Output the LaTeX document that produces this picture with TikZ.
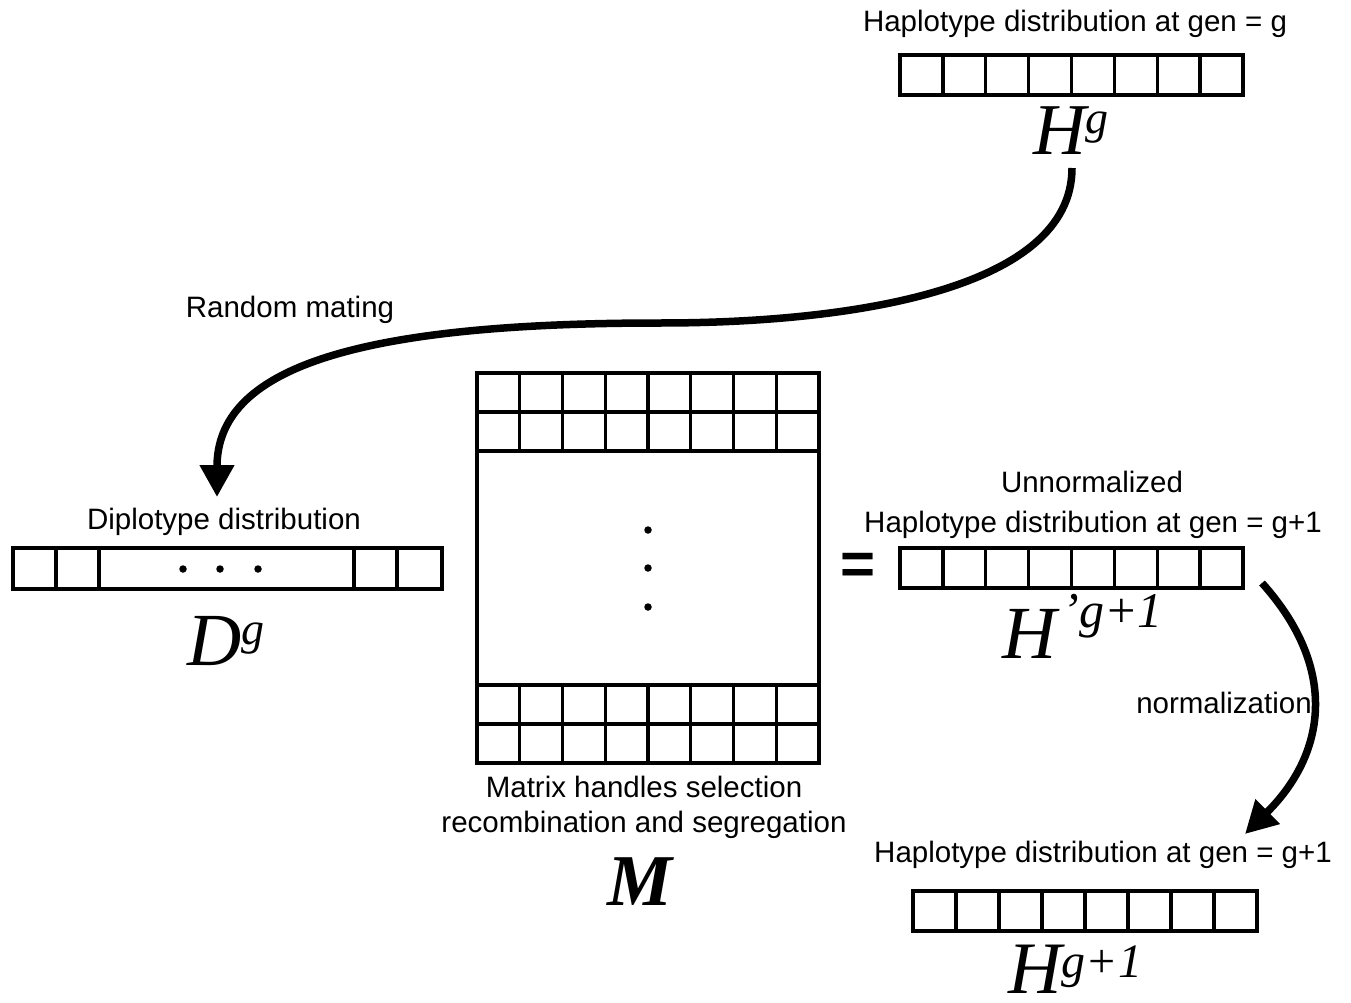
\documentclass[tikz,border=0pt]{standalone}
\usepackage{fontspec}
\setmainfont{Liberation Serif}
\newfontfamily\labfont{Liberation Sans}
\usetikzlibrary{arrows.meta}

\begin{document}
\begin{tikzpicture}[x=1pt,y=-1pt,
  lab/.style={font=\labfont\fontsize{29.5}{36}\selectfont, inner sep=0pt, anchor=base},
  sym/.style={inner sep=0pt, anchor=base west, font=\itshape},
  cell/.style={draw, line width=3.4pt},
  flow/.style={line width=7.5pt, -{Triangle[length=32pt,width=33pt]}},
  dotmark/.style={fill, circle, inner sep=0pt, minimum size=7.5pt}
]
\useasboundingbox (0,0) rectangle (1351,1003);

% haplotype vector, generation g
\node[lab] (capHg) at (1075,32) {Haplotype distribution at gen = g};
\draw[cell] (900,55) rectangle (1243,95);
\foreach \i in {1,...,7} \draw[cell] (900+42.875*\i,55) -- (900+42.875*\i,95);
\node[sym] (Hg) at (1033,155) {\fontsize{73}{73}\selectfont H\raisebox{21pt}{\fontsize{46}{46}\selectfont g}};

% random mating
\node[lab] (capRM) at (290,317) {Random mating};
\coordinate (rmStart) at (1072,168);
\coordinate (rmMid) at (660,323);
\coordinate (rmEnd) at (217,497);
\draw[flow] (rmStart) .. controls (1072,290) and (850,323) .. (rmMid)
  .. controls (350,323) and (217,370) .. (rmEnd);

% diplotype vector
\node[lab] (capDg) at (224,529) {Diplotype distribution};
\draw[cell] (13,548) rectangle (442,589);
\foreach \x in {56,99,354,397} \draw[cell] (\x,548) -- (\x,589);
\foreach \x/\n in {183/a,220/b,258/c} \node[dotmark] (dd\n) at (\x,569) {};
\node[sym] (Dg) at (187,665) {\fontsize{75}{75}\selectfont D\raisebox{21pt}{\fontsize{46}{46}\selectfont g}};

% transition matrix
\draw[cell] (477,373) rectangle (819,763);
\foreach \y in {412,451,685,724} \draw[cell] (477,\y) -- (819,\y);
\foreach \i in {1,...,7} {
  \draw[cell] (477+42.75*\i,373) -- (477+42.75*\i,451);
  \draw[cell] (477+42.75*\i,685) -- (477+42.75*\i,763);
}
\foreach \y/\n in {530/a,568/b,607/c} \node[dotmark] (md\n) at (648,\y) {};
\node[lab] (capM1) at (644,797) {Matrix handles selection};
\node[lab] (capM2) at (644,832) {recombination and segregation};
\node[inner sep=0pt, anchor=base, font=\bfseries\itshape\fontsize{73}{73}\selectfont] (M) at (640,905) {M};

% equals sign
\node[inner sep=0pt, font=\labfont\bfseries\fontsize{60}{60}\selectfont] (eq) at (858,569) {=};

% unnormalized haplotype vector, generation g+1
\node[lab] (capU1) at (1092,492) {Unnormalized};
\node[lab] (capU2) at (1093,532) {Haplotype distribution at gen = g+1};
\draw[cell] (900,548) rectangle (1243,588);
\foreach \i in {1,...,7} \draw[cell] (900+42.875*\i,548) -- (900+42.875*\i,588);
\node[sym] (Hp) at (1002,658) {\fontsize{75}{75}\selectfont H\hspace{6pt}\raisebox{31pt}{\fontsize{50}{50}\selectfont ’g+1}};

% normalization
\node[lab] (capN) at (1224,713) {normalization};
\coordinate (nzStart) at (1262,583);
\coordinate (nzEnd) at (1245,834);
\draw[flow] (nzStart) .. controls (1340,670) and (1325,755) .. (nzEnd);

% haplotype vector, generation g+1
\node[lab] (capH1) at (1103,862) {Haplotype distribution at gen = g+1};
\draw[cell] (913,891) rectangle (1257,931);
\foreach \i in {1,...,7} \draw[cell] (913+43*\i,891) -- (913+43*\i,931);
\node[sym] (H1) at (1008,993) {\fontsize{74}{74}\selectfont H\raisebox{16pt}{\fontsize{48}{48}\selectfont g+1}};
\end{tikzpicture}
\end{document}
